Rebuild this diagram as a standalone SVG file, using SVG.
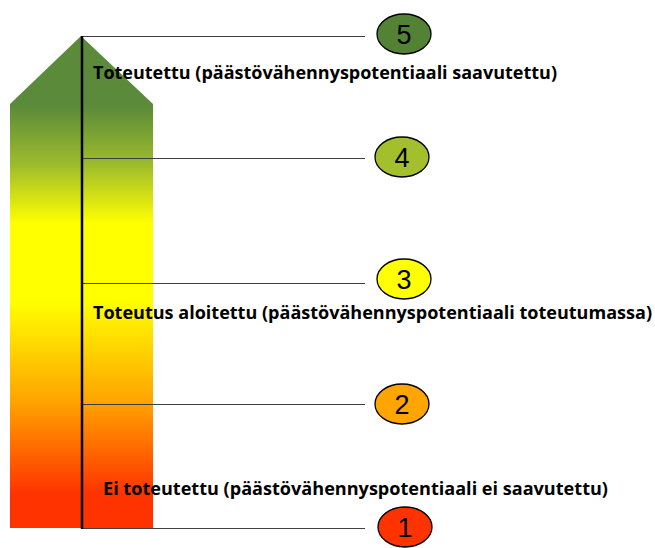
<svg xmlns="http://www.w3.org/2000/svg" width="655" height="548" viewBox="0 0 655 548">
<defs>
<linearGradient id="g" x1="0" y1="36" x2="0" y2="528" gradientUnits="userSpaceOnUse">
<stop offset="0" stop-color="#5A8A3A"/>
<stop offset="0.14" stop-color="#5A8A3A"/>
<stop offset="0.26" stop-color="#9CBB2C"/>
<stop offset="0.38" stop-color="#FFFF00"/>
<stop offset="0.54" stop-color="#FFFF00"/>
<stop offset="0.74" stop-color="#FFA500"/>
<stop offset="0.93" stop-color="#FF3300"/>
<stop offset="1" stop-color="#FF3300"/>
</linearGradient>
<style>
.ln{stroke:#404040;stroke-width:1;fill:none}
.c{stroke:#000;stroke-width:1.3}
.n{font-family:"Liberation Sans",Arial,sans-serif;font-size:27px;text-anchor:middle;fill:#000}
.t{font-family:"Open Sans","Liberation Sans",sans-serif;font-size:18px;font-weight:bold;fill:#000}
</style>
</defs>
<polygon id="arrow" points="81,36 153,104 153,528 10,528 10,104" fill="url(#g)"/>
<g id="connectors">
<line class="ln" x1="82" y1="36.5" x2="365" y2="36.5"/>
<line class="ln" x1="82" y1="158.5" x2="365" y2="158.5"/>
<line class="ln" x1="82" y1="283.5" x2="365" y2="283.5"/>
<line class="ln" x1="82" y1="404.5" x2="365" y2="404.5"/>
<line class="ln" x1="82" y1="528.5" x2="365" y2="528.5"/>
<line x1="82" y1="36" x2="82" y2="529" stroke="#000" stroke-width="2.5"/>
</g>
<g id="n5"><ellipse class="c" cx="404" cy="34" rx="27" ry="20" fill="#548235"/><text class="n" x="404" y="44">5</text></g>
<g id="n4"><ellipse class="c" cx="402" cy="157" rx="27" ry="20" fill="#A4BF2C"/><text class="n" x="402" y="167">4</text></g>
<g id="n3"><ellipse class="c" cx="404" cy="279" rx="27" ry="20" fill="#FFFF00"/><text class="n" x="404" y="289">3</text></g>
<g id="n2"><ellipse class="c" cx="402" cy="404" rx="27" ry="20" fill="#FFA500"/><text class="n" x="402" y="414">2</text></g>
<g id="n1"><ellipse class="c" cx="405" cy="527" rx="27" ry="20" fill="#FF3300"/><text class="n" x="405" y="537">1</text></g>
<g id="labels">
<text class="t" x="93" y="79" textLength="464" lengthAdjust="spacingAndGlyphs">Toteutettu (päästövähennyspotentiaali saavutettu)</text>
<text class="t" x="93" y="319" textLength="559" lengthAdjust="spacingAndGlyphs">Toteutus aloitettu (päästövähennyspotentiaali toteutumassa)</text>
<text class="t" x="103" y="495" textLength="505" lengthAdjust="spacingAndGlyphs">Ei toteutettu (päästövähennyspotentiaali ei saavutettu)</text>
</g>
</svg>
